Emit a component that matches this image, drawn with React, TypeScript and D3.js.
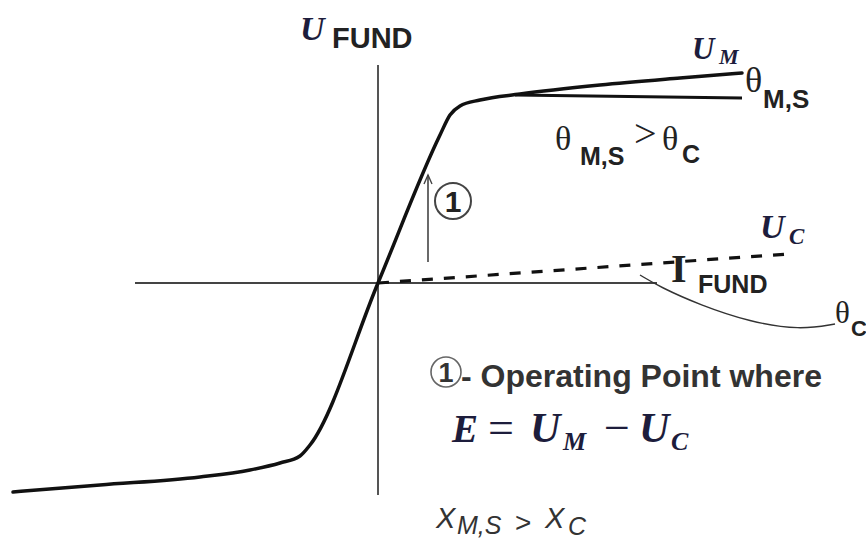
import React from "react";
import * as d3 from "d3";

// Fundamental-frequency characteristic of the magnetic core (U_M) and the capacitor line (U_C)
const coreX = [-3.65, -2.78, -1.78, -1.28, -0.98, -0.78, -0.68, 0, 0.62, 0.72, 0.82, 1.02, 1.42, 2.22, 3.02, 3.64];
const coreY = [-2.09, -2.02, -1.94, -1.87, -1.80, -1.73, -1.62, 0, 1.48, 1.68, 1.77, 1.83, 1.89, 1.98, 2.05, 2.10];

// Saturated-slope branch θ_M,S
const satX = [1.37, 3.64];
const satY = [1.88, 1.85];

// Capacitor characteristic U_C (dashed)
const capX = [0, 4.1];
const capY = [0, 0.29];

// Leader line pointing at the angle θ_C
const leaderX = [2.62, 2.82, 3.22, 3.72, 4.22, 4.57];
const leaderY = [0.08, -0.04, -0.22, -0.39, -0.47, -0.41];

// Operating-point arrow ①
const arrowX = 0.5;
const arrowY = [0.21, 1.08];

// Axis extents
const axisXRange = [-2.43, 2.79];
const axisYRange = [-2.12, 2.18];

const W = 866;
const H = 540;

const x = d3.scaleLinear().domain([-3.78, 4.88]).range([0, W]);
const y = d3.scaleLinear().domain([-2.57, 2.83]).range([H, 0]);

const zip = (xs: number[], ys: number[]) => xs.map((v, i) => [v, ys[i]] as [number, number]);

const smooth = d3
  .line<[number, number]>()
  .x((d) => x(d[0]))
  .y((d) => y(d[1]))
  .curve(d3.curveMonotoneX);

const straight = d3
  .line<[number, number]>()
  .x((d) => x(d[0]))
  .y((d) => y(d[1]));

const leader = d3
  .line<[number, number]>()
  .x((d) => x(d[0]))
  .y((d) => y(d[1]))
  .curve(d3.curveBasis);

const SERIF = "'Liberation Serif', 'DejaVu Serif', serif";
const SANS = "'Liberation Sans', Arial, sans-serif";
const NAVY = "#1d1d3c";
const INK = "#222";

export default function App() {
  const ax = x(arrowX);
  const ay0 = y(arrowY[0]);
  const ay1 = y(arrowY[1]);
  return (
    <svg
      width={W}
      height={H}
      viewBox={`0 0 ${W} ${H}`}
      style={{ position: "absolute", left: 0, top: 0, background: "#fff" }}
    >
      {/* axes */}
      <line x1={x(axisXRange[0])} x2={x(axisXRange[1])} y1={y(0)} y2={y(0)} stroke="#444" strokeWidth={2} />
      <line x1={x(0)} x2={x(0)} y1={y(axisYRange[0])} y2={y(axisYRange[1])} stroke="#555" strokeWidth={2} />

      {/* capacitor line */}
      <path d={straight(zip(capX, capY)) ?? ""} fill="none" stroke="#111" strokeWidth={3.2} strokeDasharray="11 11" />

      {/* core characteristic */}
      <path d={smooth(zip(coreX, coreY)) ?? ""} fill="none" stroke="#111" strokeWidth={3.5} strokeLinejoin="round" strokeLinecap="round" />
      <path d={straight(zip(satX, satY)) ?? ""} fill="none" stroke="#111" strokeWidth={3.2} />

      {/* θ_C leader */}
      <path d={leader(zip(leaderX, leaderY)) ?? ""} fill="none" stroke="#333" strokeWidth={1.4} />

      {/* operating point arrow */}
      <line x1={ax} x2={ax} y1={ay0} y2={ay1} stroke="#444" strokeWidth={1.6} />
      <path d={`M${ax - 4},${ay1 + 9} L${ax},${ay1} L${ax + 4},${ay1 + 9}`} fill="none" stroke="#444" strokeWidth={1.4} />
      <circle cx={453} cy={201} r={18} fill="none" stroke="#444" strokeWidth={2} />
      <text x={453} y={212} textAnchor="middle" fontFamily={SANS} fontWeight="bold" fontSize={30} fill={INK}>1</text>

      {/* U FUND */}
      <text x={300} y={40} fontFamily={SERIF} fontStyle="italic" fontWeight="bold" fontSize={34} fill={NAVY}>U</text>
      <text x={332} y={48} fontFamily={SANS} fontWeight="bold" fontSize={29} fill={INK}>FUND</text>

      {/* U_M */}
      <text x={692} y={59} fontFamily={SERIF} fontStyle="italic" fontWeight="bold" fontSize={31} fill={NAVY}>U</text>
      <text x={719} y={64} fontFamily={SERIF} fontStyle="italic" fontWeight="bold" fontSize={22} fill={NAVY}>M</text>

      {/* θ_M,S at the end of the branch */}
      <text x={745} y={92} fontFamily={SERIF} fontSize={36} fill={INK}>θ</text>
      <text x={763} y={108} fontFamily={SANS} fontWeight="bold" fontSize={26} fill={INK}>M,S</text>

      {/* θ_M,S > θ_C */}
      <text x={555} y={150} fontFamily={SERIF} fontSize={34} fill={INK}>θ</text>
      <text x={580} y={165} fontFamily={SANS} fontWeight="bold" fontSize={25} fill={INK}>M,S</text>
      <text x={634} y={147} fontFamily={SERIF} fontSize={40} fill={INK}>&gt;</text>
      <text x={662} y={150} fontFamily={SERIF} fontSize={34} fill={INK}>θ</text>
      <text x={682} y={163} fontFamily={SANS} fontWeight="bold" fontSize={25} fill={INK}>C</text>

      {/* U_C */}
      <text x={760} y={238} fontFamily={SERIF} fontStyle="italic" fontWeight="bold" fontSize={34} fill={NAVY}>U</text>
      <text x={789} y={244} fontFamily={SERIF} fontStyle="italic" fontWeight="bold" fontSize={23} fill={NAVY}>C</text>

      {/* I_FUND */}
      <text x={671} y={282} fontFamily={SERIF} fontWeight="bold" fontSize={40} fill={INK}>I</text>
      <text x={698} y={293} fontFamily={SANS} fontWeight="bold" fontSize={25} fill={INK}>FUND</text>

      {/* θ_C */}
      <text x={835} y={323} fontFamily={SERIF} fontSize={31} fill={INK}>θ</text>
      <text x={851} y={336} fontFamily={SANS} fontWeight="bold" fontSize={22} fill={INK}>C</text>

      {/* legend note */}
      <circle cx={446} cy={372} r={15} fill="none" stroke="#666" strokeWidth={1.6} />
      <text x={446} y={382} textAnchor="middle" fontFamily={SANS} fontWeight="bold" fontSize={27} fill="#333">1</text>
      <text x={461} y={387} fontFamily={SANS} fontWeight="bold" fontSize={32} fill="#333">- Operating Point where</text>

      {/* E = U_M − U_C */}
      <text x={452} y={442} fontFamily={SERIF} fontStyle="italic" fontWeight="bold" fontSize={39} fill={NAVY}>E</text>
      <text x={488} y={443} fontFamily={SERIF} fontSize={46} fill={NAVY}>=</text>
      <text x={530} y={442} fontFamily={SERIF} fontStyle="italic" fontWeight="bold" fontSize={42} fill={NAVY}>U</text>
      <text x={563} y={450} fontFamily={SERIF} fontStyle="italic" fontWeight="bold" fontSize={26} fill={NAVY}>M</text>
      <text x={604} y={443} fontFamily={SERIF} fontSize={46} fill={NAVY}>−</text>
      <text x={639} y={442} fontFamily={SERIF} fontStyle="italic" fontWeight="bold" fontSize={42} fill={NAVY}>U</text>
      <text x={671} y={450} fontFamily={SERIF} fontStyle="italic" fontWeight="bold" fontSize={26} fill={NAVY}>C</text>

      {/* X_M,S > X_C */}
      <text x={436} y={528} fontFamily={SANS} fontStyle="italic" fontSize={29} fill="#333">X</text>
      <text x={457} y={534} fontFamily={SANS} fontStyle="italic" fontSize={25} fill="#333">M,S</text>
      <text x={515} y={532} fontFamily={SANS} fontSize={28} fill="#333">&gt;</text>
      <text x={545} y={528} fontFamily={SANS} fontStyle="italic" fontSize={29} fill="#333">X</text>
      <text x={568} y={535} fontFamily={SANS} fontStyle="italic" fontSize={25} fill="#333">C</text>
    </svg>
  );
}
